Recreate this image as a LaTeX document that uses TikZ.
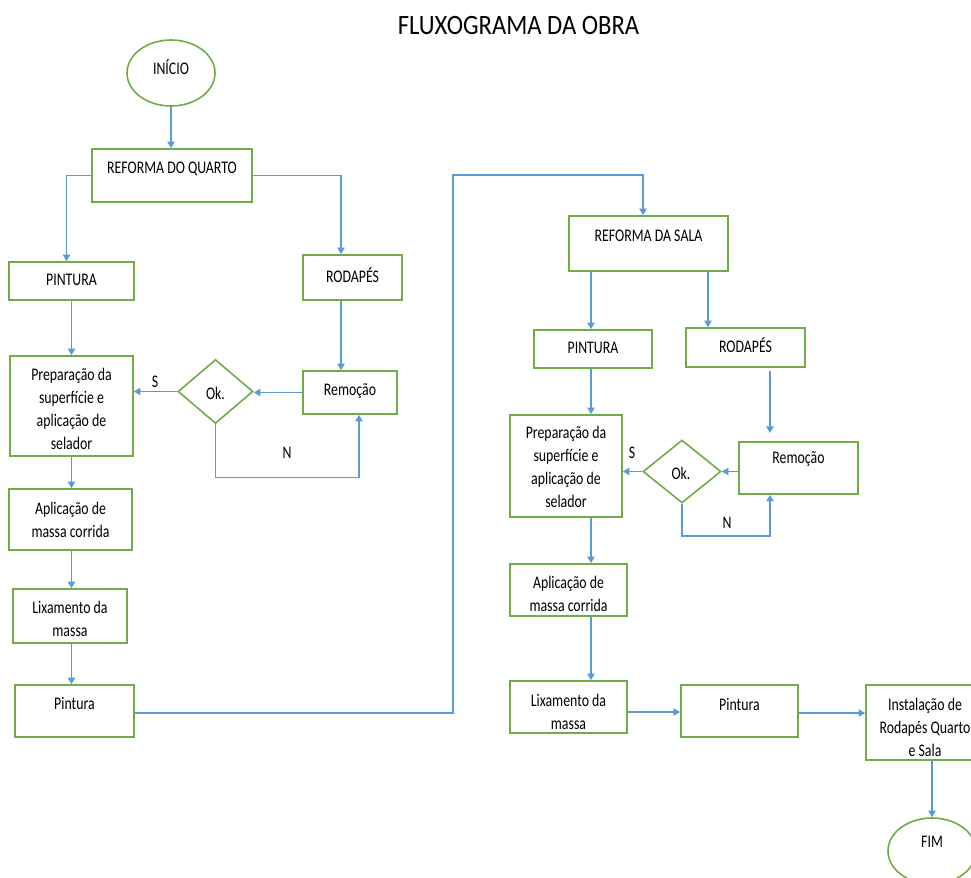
\documentclass[tikz,border=0pt]{standalone}
\usepackage{fontspec}
\setmainfont{Carlito}[FakeStretch=0.78]
\newfontfamily\titlefont{Carlito}[FakeStretch=0.88]
\usetikzlibrary{shapes.geometric,arrows.meta,calc}
\definecolor{boxgreen}{RGB}{112,173,71}
\definecolor{lineblue}{RGB}{91,155,213}
\tikzset{
  bx/.style 2 args={draw=boxgreen, line width=1.2pt, rectangle, inner sep=0pt,
     minimum width=#1*0.75pt, minimum height=#2*0.75pt},
  ell/.style 2 args={draw=boxgreen, line width=1.2pt, ellipse, inner sep=0pt,
     minimum width=#1*0.75pt, minimum height=#2*0.75pt},
  dia/.style 2 args={draw=boxgreen, line width=1.2pt, diamond, inner sep=0pt,
     minimum width=#1*0.75pt, minimum height=#2*0.75pt},
  txt/.style={inner sep=0pt, align=center, font=\fontsize{13.3pt}{17.25pt}\selectfont},
  conn/.style={draw=lineblue, line width=1.2pt},
  arr/.style={conn, -{Triangle[length=5pt,width=5.5pt]}},
}
\begin{document}
\begin{tikzpicture}[x=0.75pt,y=-0.75pt]
\fill[white] (0,0) rectangle (971,878);
\useasboundingbox (0,0) rectangle (971,878);

% title
\node[inner sep=0pt, font=\titlefont\fontsize{21pt}{24pt}\selectfont] (title) at (518.5,26) {FLUXOGRAMA DA OBRA};

% shapes
\node[ell={88}{66}] (ini) at (171,73) {};
\node[bx={160}{53}] (rq) at (172,175.5) {};
\node[bx={125}{38}] (pin1) at (71.5,281) {};
\node[bx={99}{45}] (rod1) at (352.5,277.5) {};
\node[bx={123}{100}] (prep1) at (71.5,406) {};
\node[dia={75}{64}] (ok1) at (215.5,391.5) {};
\node[bx={94}{43}] (rem1) at (350,392.5) {};
\node[bx={123}{61}] (apl1) at (70.5,519.5) {};
\node[bx={114}{54}] (lix1) at (70,616) {};
\node[bx={119}{52}] (pint1) at (74.5,711) {};

\node[bx={159}{55}] (rs) at (648.5,243.5) {};
\node[bx={118}{38}] (pin2) at (593,349) {};
\node[bx={119}{39}] (rod2) at (745.5,347.5) {};
\node[bx={112}{102}] (prep2) at (566,466) {};
\node[dia={78}{63}] (ok2) at (682,471.5) {};
\node[bx={119}{52}] (rem2) at (798.5,468) {};
\node[bx={117}{52}] (apl2) at (568.5,590) {};
\node[bx={117}{52}] (lix2) at (568.5,707) {};
\node[bx={117}{52}] (pint3) at (739.5,711) {};
\node[bx={118}{75}] (inst) at (925,722.5) {};
\node[ell={88}{66}] (fim) at (932,851) {};

% texts
\node[txt] (tini) at (171,67) {INÍCIO};
\node[txt] (trq) at (172,169) {REFORMA DO QUARTO};
\node[txt] (tpin1) at (71.5,280) {PINTURA};
\node[txt] (trod1) at (352.5,275) {RODAPÉS};
\node[txt] (tprep1) at (71.5,409) {Preparação da\\superfície e\\aplicação de\\selador};
\node[txt] (tok1) at (215.5,393) {Ok.};
\node[txt] (trem1) at (350,391) {Remoção};
\node[txt] (tapl1) at (70.5,520) {Aplicação de\\massa corrida};
\node[txt] (tlix1) at (70,619) {Lixamento da\\massa};
\node[txt] (tpint1) at (74.5,703) {Pintura};
\node[txt] (ts1) at (155,382) {S};
\node[txt] (tn1) at (287,453) {N};

\node[txt] (trs) at (648.5,236) {REFORMA DA SALA};
\node[txt] (tpin2) at (593,348) {PINTURA};
\node[txt] (trod2) at (745.5,345) {RODAPÉS};
\node[txt] (tprep2) at (566,467) {Preparação da\\superfície e\\aplicação de\\selador};
\node[txt] (tok2) at (681,473) {Ok.};
\node[txt] (trem2) at (798.5,459) {Remoção};
\node[txt] (tapl2) at (568.5,594) {Aplicação de\\massa corrida};
\node[txt] (tlix2) at (568.5,712) {Lixamento da\\massa};
\node[txt] (tpint3) at (739.5,704) {Pintura};
\node[txt] (tinst) at (925,727) {Instalação de\\Rodapés Quarto\\e Sala};
\node[txt] (tfim) at (932,842) {FIM};
\node[txt] (ts2) at (632,453) {S};
\node[txt] (tn2) at (727,523) {N};

% helper coordinates
\coordinate (c1) at (453,175);
\coordinate (colx) at (591,0);
\coordinate (r2a) at (770,371);
\coordinate (r2b) at (770,433);
\coordinate (lxe) at ($(lix2.east)+(0,5)$);
\coordinate (pte) at ($(pint3.east)+(0,2)$);

% connectors - quarto
\draw[arr] (ini.south) -- (ini.south |- rq.north);
\draw[arr] (rq.west) -| ($(pin1.north)+(-5,0)$);
\draw[arr] (rq.east) -| ($(rod1.north)+(-11.5,0)$);
\draw[arr] (pin1.south) -- (pin1.south |- prep1.north);
\draw[arr] ($(rod1.south)+(-11.5,0)$) -- ($(rem1.north)+(-9,0)$);
\draw[arr] (rem1.west) -- (rem1.west -| ok1.east);
\draw[arr] (ok1.west) -- (ok1.west -| prep1.east);
\draw[arr] (ok1.south) -- ++(0,53) -| ($(rem1.south)+(9,0)$);
\draw[arr] (prep1.south) -- (prep1.south |- apl1.north);
\draw[arr] (apl1.south -| prep1.south) -- (lix1.north -| prep1.south);
\draw[arr] (lix1.south -| prep1.south) -- (pint1.north -| prep1.south);
\draw[arr] ($(pint1.east)+(0,2)$) -| (c1) -| ($(rs.north)+(-5.5,0)$);

% connectors - sala
\draw[arr] (rs.south -| colx) -- (pin2.north -| colx);
\draw[arr] ($(rs.south)+(59.5,0)$) -- ($(rod2.north)+(-37.5,0)$);
\draw[arr] (pin2.south -| colx) -- (prep2.north -| colx);
\draw[arr] (r2a) -- (r2b);
\draw[arr] (rem2.west |- ok2.east) -- (ok2.east);
\draw[arr] (ok2.west) -- (ok2.west -| prep2.east);
\draw[arr] (ok2.south) -- ++(0,32) -| ($(rem2.south)+(-28.5,0)$);
\draw[arr] (prep2.south -| colx) -- (apl2.north -| colx);
\draw[arr] (apl2.south -| colx) -- (lix2.north -| colx);
\draw[arr] (lxe) -- (lxe -| pint3.west);
\draw[arr] (pte) -- (pte -| inst.west);
\draw[arr] (inst.south -| fim.north) -- (fim.north);
\end{tikzpicture}
\end{document}
